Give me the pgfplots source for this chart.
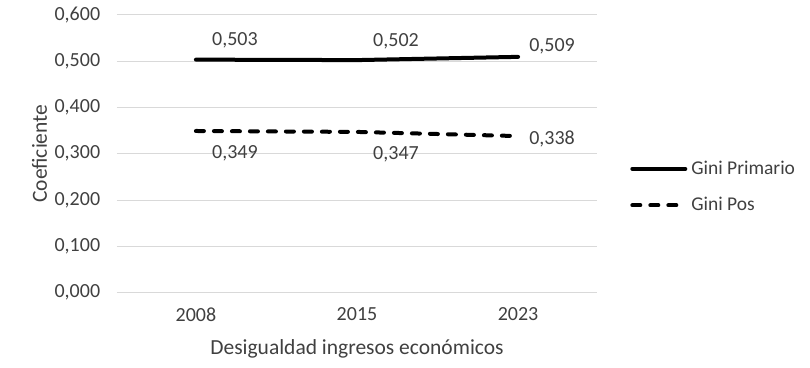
\documentclass[border=0pt]{standalone}
\usepackage{pgfplots}
\pgfplotsset{compat=1.18}
\usepackage{fontspec}
\setmainfont{Carlito}
\definecolor{txt}{HTML}{404040}
\definecolor{grd}{HTML}{D9D9D9}
\begin{document}
\fontsize{20bp}{23bp}\selectfont
\begin{tikzpicture}
\begin{axis}[
  name=ax,
  scale only axis,
  width=480bp, height=278bp,
  xmin=-0.49, xmax=2.49,
  ymin=0, ymax=0.6,
  xtick={0,1,2},
  xticklabels={2008,2015,2023},
  ytick={0,0.1,0.2,0.3,0.4,0.5,0.6},
  yticklabel={\pgfmathprintnumber[fixed,fixed zerofill,precision=3,use comma]{\tick}},
  /pgf/number format/assume math mode=true,
  ymajorgrids,
  grid style={grd, line width=1bp},
  axis line style={draw=none},
  major tick length=0pt,
  tick label style={text=txt, font=\fontsize{20bp}{23bp}\selectfont},
  yticklabel style={xshift=-10bp},
  xticklabel style={yshift=-8bp},
  xlabel={Desigualdad ingresos económicos},
  ylabel={Coeficiente},
  label style={text=txt, font=\fontsize{21.5bp}{24bp}\selectfont},
  xlabel style={yshift=-5bp},
  ylabel style={yshift=-6bp},
  clip=false,
  legend style={at={(1.069,0.38)}, anchor=west, draw=none, fill=none,
    font=\fontsize{19.5bp}{23bp}\selectfont, text=txt,
    row sep=16bp, inner sep=0pt, cells={anchor=west}},
  legend cell align=left,
  legend image code/.code={\draw[#1] (0bp,0bp) -- (53bp,0bp); \path (55bp,0bp);},
]
\addplot[black, line width=4bp, line cap=round] coordinates {(0,0.503) (1,0.502) (2,0.509)};
\addlegendentry{Gini Primario}
\addplot[black, line width=4bp, line cap=round, dash pattern=on 8bp off 10bp] coordinates {(0,0.349) (1,0.347) (2,0.338)};
\addlegendentry{Gini Pos}
% data labels
\addplot[draw=none, forget plot, nodes near coords={\pgfmathprintnumber[fixed,fixed zerofill,precision=3,use comma]{\pgfplotspointmeta}},
  point meta=y, every node near coord/.append style={anchor=center, text=txt, xshift=39bp, yshift=19bp, font=\fontsize{20bp}{23bp}\selectfont, /pgf/number format/assume math mode=true}]
  coordinates {(0,0.503) (1,0.502)};
\addplot[draw=none, forget plot, nodes near coords={\pgfmathprintnumber[fixed,fixed zerofill,precision=3,use comma]{\pgfplotspointmeta}},
  point meta=y, every node near coord/.append style={anchor=center, text=txt, xshift=34bp, yshift=11bp, font=\fontsize{20bp}{23bp}\selectfont, /pgf/number format/assume math mode=true}]
  coordinates {(2,0.509)};
\addplot[draw=none, forget plot, nodes near coords={\pgfmathprintnumber[fixed,fixed zerofill,precision=3,use comma]{\pgfplotspointmeta}},
  point meta=y, every node near coord/.append style={anchor=center, text=txt, xshift=39bp, yshift=-22bp, font=\fontsize{20bp}{23bp}\selectfont, /pgf/number format/assume math mode=true}]
  coordinates {(0,0.349) (1,0.347)};
\addplot[draw=none, forget plot, nodes near coords={\pgfmathprintnumber[fixed,fixed zerofill,precision=3,use comma]{\pgfplotspointmeta}},
  point meta=y, every node near coord/.append style={anchor=center, text=txt, xshift=34bp, yshift=-3bp, font=\fontsize{20bp}{23bp}\selectfont, /pgf/number format/assume math mode=true}]
  coordinates {(2,0.338)};
\end{axis}
\path[use as bounding box] ([shift={(-117bp,-75bp)}]ax.south west) rectangle ([shift={(213bp,13bp)}]ax.north east);
\end{tikzpicture}
\end{document}
